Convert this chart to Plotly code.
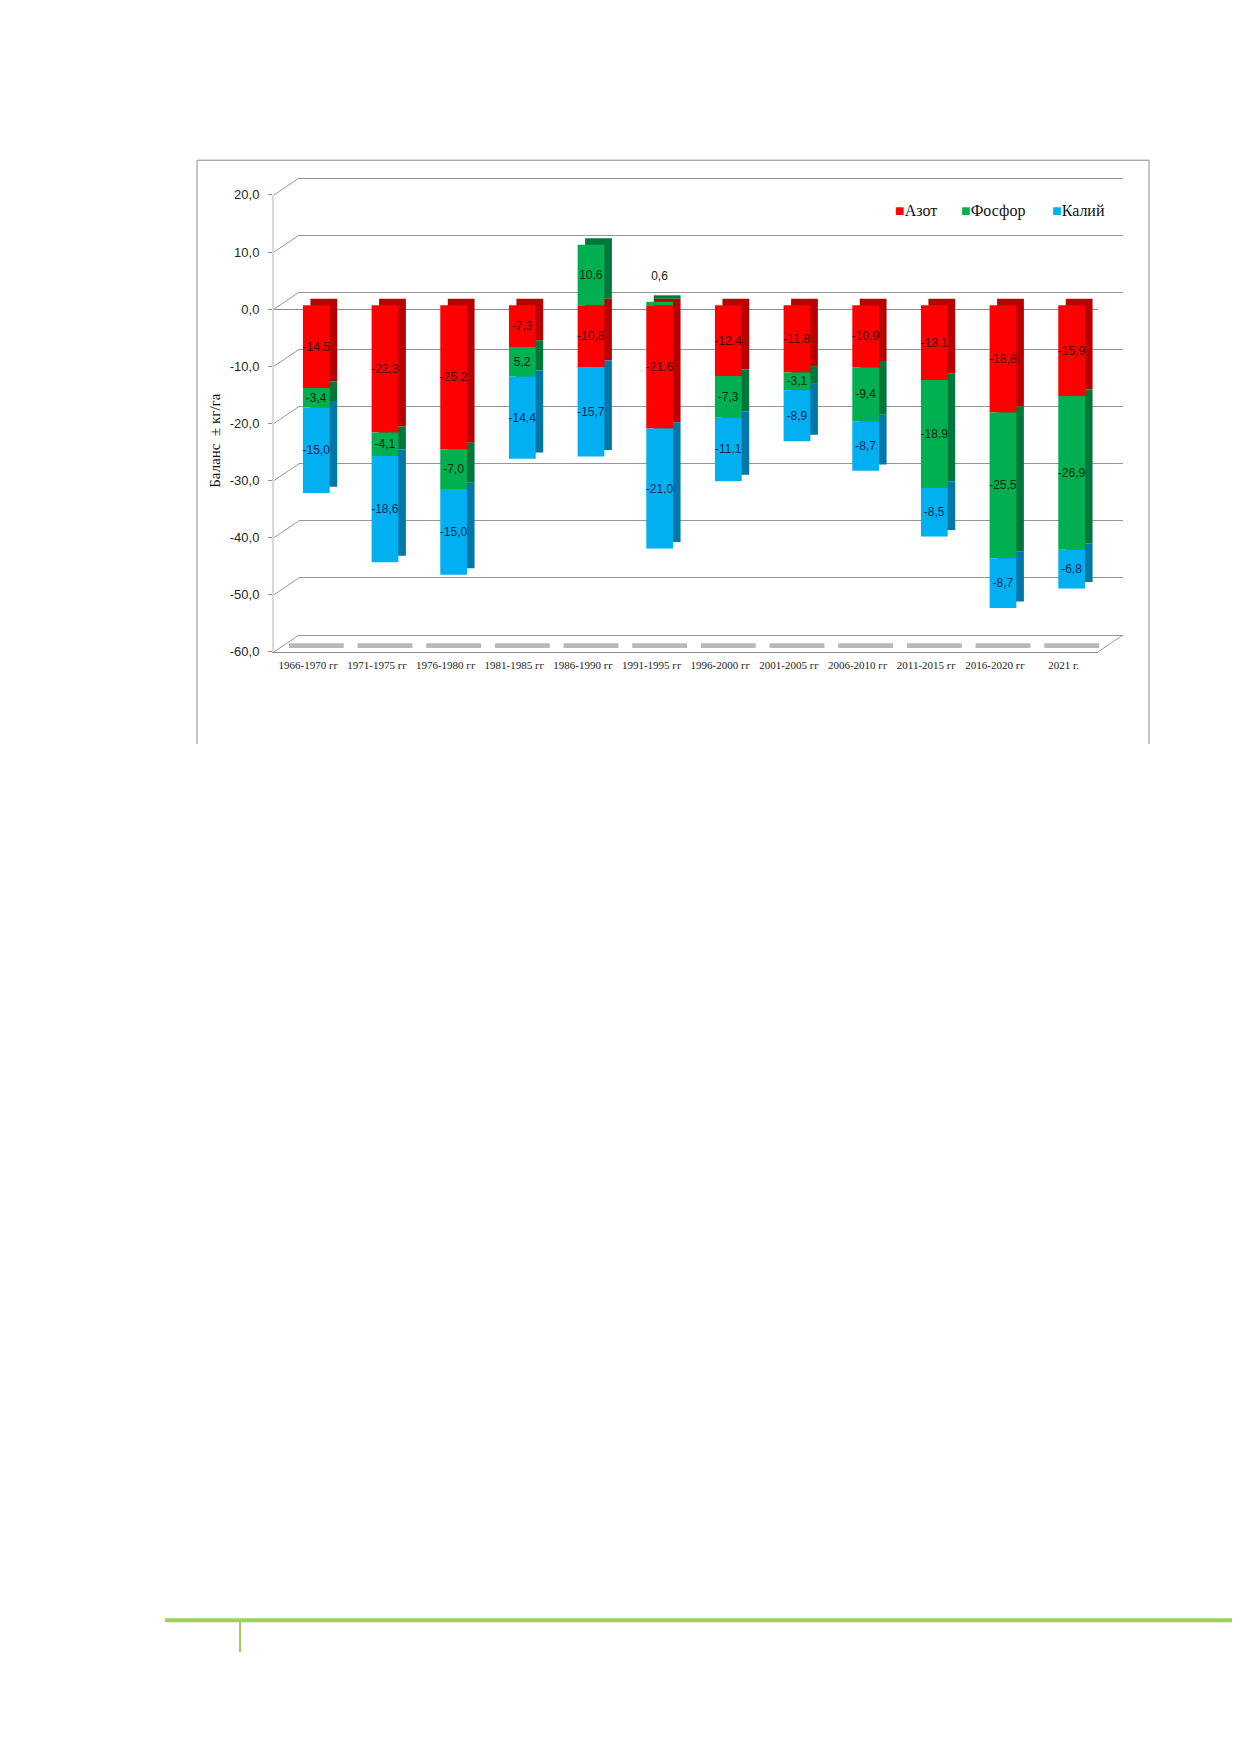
import plotly.graph_objects as go

# Periods
periods = ['1966-1970 гг', '1971-1975 гг', '1976-1980 гг', '1981-1985 гг',
           '1986-1990 гг', '1991-1995 гг', '1996-2000 гг', '2001-2005 гг',
           '2006-2010 гг', '2011-2015 гг', '2016-2020 гг', '2021 г.']

# Balance, kg/ha
nitrogen = [-14.5, -22.3, -25.2, -7.3, -10.8, -21.6, -12.4, -11.8, -10.9, -13.1, -18.8, -15.9]
phosphorus = [-3.4, -4.1, -7.0, -5.2, 10.6, 0.6, -7.3, -3.1, -9.4, -18.9, -25.5, -26.9]
potassium = [-15.0, -18.6, -15.0, -14.4, -15.7, -21.0, -11.1, -8.9, -8.7, -8.5, -8.7, -6.8]

# labels as printed on the chart (one phosphorus label has no minus sign)
phosphorus_labels = ['-3,4', '-4,1', '-7,0', '5,2', '10,6', '0,6',
                     '-7,3', '-3,1', '-9,4', '-18,9', '-25,5', '-26,9']

y_ticks = [-60, -50, -40, -30, -20, -10, 0, 10, 20]


def fmt(v):
    return f'{v:.1f}'.replace('.', ',')


# page geometry (offset of the plot div inside the page)
OFF_X, OFF_Y = 8, 13.5
FW, FH = 1224, 1716


def fx(x):
    return (x - OFF_X) / FW


def fy(y):
    return 1 - (y - OFF_Y) / FH


def ydom(top_px, bot_px, r0, r1, top_val=20, bot_val=-60):
    k = (bot_px - top_px) / (bot_val - top_val)
    return [fy(top_px + k * (r0 - top_val)), fy(top_px + k * (r1 - top_val))]


def xdom(left_px, right_px):
    return [fx(left_px), fx(right_px)]


# planes of the pseudo-3d box
BACK = dict(x=(299, 1123), y=(178, 639))
FRONT = dict(x=(274, 1098), y=(195, 656))
BARS = dict(x=(282, 1106), y=(191, 652))
DEPTH = dict(x=(289.5, 1113.5), y=(184.5, 645.5))

colors = {'Азот': ('#FF0000', '#B80000', '#3d0000'),
          'Фосфор': ('#00B050', '#00773A', '#002a10'),
          'Калий': ('#00B0F0', '#0077A6', '#0a2a5a')}

series = [('Азот', nitrogen, [fmt(v) for v in nitrogen]),
          ('Фосфор', phosphorus, phosphorus_labels),
          ('Калий', potassium, [fmt(v) for v in potassium])]

idx = list(range(len(periods)))
BAR_W = 0.39

fig = go.Figure()

# placeholders so the back and front planes are drawn first
fig.add_trace(go.Scatter(x=[None], y=[None], xaxis='x', yaxis='y',
                         showlegend=False, hoverinfo='skip'))
fig.add_trace(go.Scatter(x=[None], y=[None], xaxis='x2', yaxis='y2',
                         showlegend=False, hoverinfo='skip'))

# side / top faces of the bars
for name, vals, _ in series:
    fig.add_trace(go.Bar(x=idx, y=vals, width=BAR_W, xaxis='x3', yaxis='y3',
                         marker=dict(color=colors[name][1], line=dict(width=0)),
                         showlegend=False, hoverinfo='skip'))

# front faces with labels
for name, vals, labels in series:
    pos = ['outside' if 0 < v < 2 else 'inside' for v in vals]
    # small positive values sit well above the bar
    text = [t + '<br> ' if p == 'outside' else t for t, p in zip(labels, pos)]
    fig.add_trace(go.Bar(x=idx, y=vals, width=BAR_W, xaxis='x4', yaxis='y4',
                         name=name, showlegend=False,
                         marker=dict(color=colors[name][0], line=dict(width=0)),
                         text=text, textposition=pos,
                         insidetextanchor='middle', textangle=0,
                         constraintext='none', cliponaxis=False,
                         insidetextfont=dict(family='Liberation Sans', size=12,
                                             color=colors[name][2]),
                         outsidetextfont=dict(family='Liberation Sans', size=12,
                                              color='#1a1a1a')))

hidden = dict(showticklabels=False, showgrid=False, zeroline=False,
              showline=False, ticks='')

fig.update_layout(
    width=FW, height=FH,
    margin=dict(l=0, r=0, t=0, b=0),
    paper_bgcolor='white', plot_bgcolor='rgba(0,0,0,0)',
    barmode='relative',
    showlegend=False,
    # back wall with grid lines
    xaxis=dict(domain=xdom(*BACK['x']), range=[-0.5, 11.5], anchor='y', **hidden),
    yaxis=dict(domain=ydom(*BACK['y'], -61, 21), range=[-61, 21], anchor='x',
               tickvals=y_ticks, showgrid=True, gridcolor='#969696', gridwidth=1,
               showticklabels=False, zeroline=False, showline=False, ticks=''),
    # front plane: category labels, value ticks, zero line
    xaxis2=dict(domain=xdom(*FRONT['x']), range=[-0.5, 11.5], anchor='y2',
                tickvals=idx, ticktext=periods, showgrid=False, zeroline=False,
                showline=True, linecolor='#8c8c8c', linewidth=1,
                ticks='outside', ticklen=3, tickcolor='rgba(0,0,0,0)',
                tickfont=dict(family='Liberation Serif', size=11, color='#222222')),
    yaxis2=dict(domain=ydom(*FRONT['y'], -60, 20), range=[-60, 20], anchor='x2',
                tickvals=y_ticks, ticktext=[fmt(v) for v in y_ticks],
                showgrid=False, zeroline=True, zerolinecolor='#8c8c8c',
                zerolinewidth=1, showline=True, linecolor='#d9d9d9', linewidth=2,
                ticks='outside', ticklen=4, tickcolor='#8c8c8c',
                ticklabelstandoff=6,
                tickfont=dict(family='Liberation Sans', size=13, color='#262626')),
    xaxis3=dict(domain=xdom(*DEPTH['x']), range=[-0.5, 11.5], anchor='y3', **hidden),
    yaxis3=dict(domain=ydom(*DEPTH['y'], -60, 20), range=[-60, 20], anchor='x3', **hidden),
    xaxis4=dict(domain=xdom(*BARS['x']), range=[-0.5, 11.5], anchor='y4', **hidden),
    yaxis4=dict(domain=ydom(*BARS['y'], -60, 20), range=[-60, 20], anchor='x4', **hidden),
)


def line(x0, y0, x1, y1, color, width=1, layer='above'):
    fig.add_shape(type='line', xref='paper', yref='paper',
                  x0=fx(x0), y0=fy(y0), x1=fx(x1), y1=fy(y1),
                  line=dict(color=color, width=width), layer=layer)


# connectors from front value ticks to the back wall
kf = (FRONT['y'][1] - FRONT['y'][0]) / -80
kb = (BACK['y'][1] - BACK['y'][0]) / -80
for v in y_ticks:
    line(FRONT['x'][0], FRONT['y'][0] + kf * (v - 20),
         BACK['x'][0], BACK['y'][0] + kb * (v - 20), '#969696')
# right edge of the floor
line(FRONT['x'][1], FRONT['y'][1], BACK['x'][1], BACK['y'][1], '#969696')

# floor shading under each category
for i in idx:
    fig.add_shape(type='rect', xref='x4', yref='y4', x0=i - 0.4, x1=i + 0.4,
                  y0=-60.1, y1=-59.2, fillcolor='#b9b9b9', line=dict(width=0),
                  layer='below')

# chart frame (no bottom edge)
line(197, 160, 1149, 160, '#8a8a8a')
line(197, 160, 197, 749, '#8a8a8a')
line(1149, 160, 1149, 749, '#8a8a8a')

# legend: coloured square right before each name
legend_x = {'Азот': 893, 'Фосфор': 959, 'Калий': 1050}
for name, _, _ in series:
    fig.add_annotation(text=f'<span style="color:{colors[name][0]}">■</span>{name}',
                       showarrow=False, xref='paper', yref='paper',
                       x=fx(legend_x[name]), y=fy(211), xanchor='left', yanchor='middle',
                       font=dict(family='Liberation Serif', size=16, color='#111111'))

# y title
fig.add_annotation(text='Баланс  ± кг/га', textangle=-90, showarrow=False,
                   xref='paper', yref='paper', x=fx(215), y=fy(443),
                   xanchor='center', yanchor='middle',
                   font=dict(family='Liberation Serif', size=15, color='#111111'))

# page decoration at the bottom
line(165, 1633, 1236, 1633, '#9BD35A', width=4)
line(240, 1633, 240, 1665, '#9BD35A', width=2)

fig.write_html('out.html')
